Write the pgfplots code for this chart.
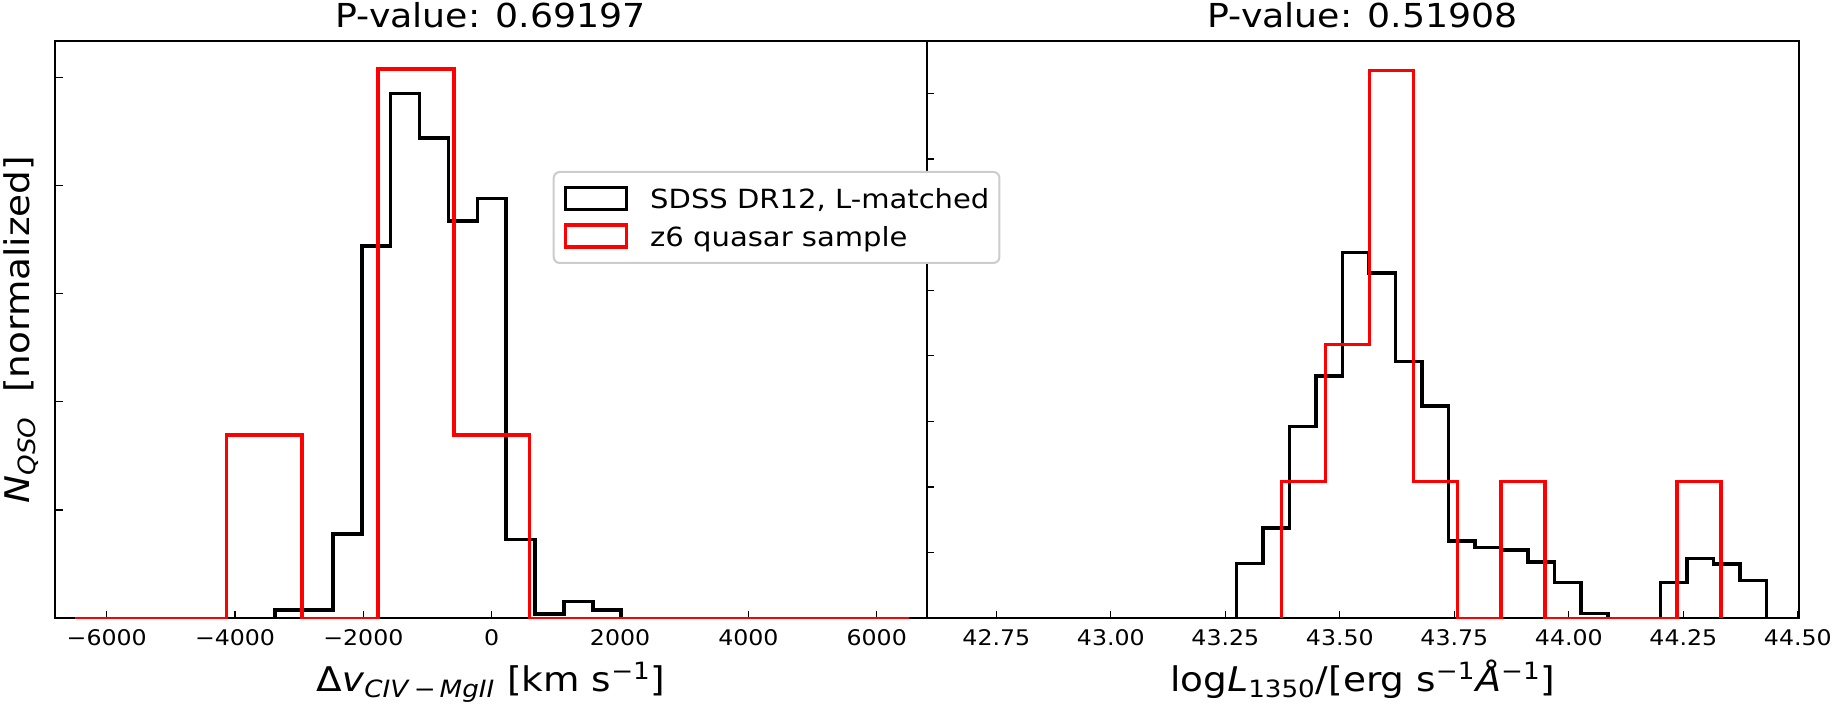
\documentclass[border=0pt]{standalone}
\usepackage{fontspec}
\setmainfont{DejaVu Sans}[FakeStretch=1.1]
\usepackage{pgfplots}
\pgfplotsset{compat=1.18}
\pgfplotsset{
  hist/.style={
    scale only axis, height=288.65pt, ymin=0,
    axis line style={line width=1pt},
    tick align=inside, xtick pos=bottom, ytick pos=left,
    major tick length=3.85pt,
    tick style={line width=0.6pt, black},
    yticklabel style={opacity=0},
    every axis title shift=0pt,
    xticklabel style={anchor=base, yshift=-13.35pt, inner sep=0pt, font=\fontsize{10.75}{12}\selectfont},
    title style={at={(axis description cs:0.5,1.02252)}, anchor=base, inner sep=0pt, font=\fontsize{16.5}{19}\selectfont},
    xlabel style={at={(axis description cs:0.5,-0.12714)}, anchor=base, inner sep=0pt, font=\fontsize{17}{20}\selectfont},
    ylabel style={at={(axis description cs:-0.02868,0.5)}, anchor=base, inner sep=0pt, font=\fontsize{17}{20}\selectfont},
  },
  step/.style={const plot mark left, line width=1.75pt, line join=miter, no marks},
  boxlegend/.style={legend image code/.code={\draw[sharp corners, line width=1.75pt,##1] (0pt,-5.5pt) rectangle (30.5pt,5.5pt);}},
}
\begin{document}
\begin{tikzpicture}
% right panel
\begin{axis}[hist, at={(435.85pt,0pt)}, anchor=south west, width=436.15pt,
  xmin=42.598, xmax=44.5026, ymax=4.40, ytick={0,0.5,...,4},
  xtick={42.75,43,43.25,43.5,43.75,44,44.25,44.5},
  xticklabels={42.75,43.00,43.25,43.50,43.75,44.00,44.25,44.50},
  title={P-value: 0.51908},
  xlabel={log\textit{L}\textsubscript{1350}/[erg s\textsuperscript{−1}\textit{Å}\textsuperscript{−1}]}]
\addplot[step, black] coordinates {(43.274,0) (43.274,0.418) (43.332,0.689) (43.390,1.461) (43.448,1.848) (43.506,2.787) (43.564,2.630) (43.621,1.957) (43.679,1.618) (43.737,0.590) (43.795,0.538) (43.853,0.522) (43.911,0.428) (43.969,0.271) (44.027,0.038) (44.085,0) (44.200,0.271) (44.258,0.455) (44.316,0.412) (44.374,0.290) (44.432,0)};
\addplot[step, red] coordinates {(43.373,0) (43.373,1.044) (43.469,2.088) (43.565,4.175) (43.661,1.044) (43.757,0) (43.852,1.044) (43.948,0) (44.236,1.044) (44.332,0)};
\end{axis}
% left panel
\begin{axis}[hist, at={(0pt,0pt)}, anchor=south west, width=435.85pt,
  xmin=-6806, xmax=6779, ymax=5.335, ytick={0,1,2,3,4,5},
  xtick={-6000,-4000,-2000,0,2000,4000,6000},
  xticklabels={−6000,−4000,−2000,0,2000,4000,6000},
  title={P-value: 0.69197},
  xlabel={Δ\textit{v}\textsubscript{\textit{CIV}\,−\,\textit{MgII}} [km s\textsuperscript{−1}]},
  ylabel={\textit{N}\textsubscript{\textit{QSO}}\ \ [normalized]},
  legend cell align=left,
  legend style={at={(axis description cs:0.571,0.7748)}, anchor=north west,
    draw=black!20, line width=1pt, rounded corners=3pt, fill=white,
    font=\fontsize{13.2}{15}\selectfont,
    inner xsep=5pt, inner ysep=7pt, row sep=6pt,
    nodes={inner sep=0pt, text depth=0pt}},
  ]
\addplot[step, black, boxlegend] coordinates {(-4275,0) (-3375,0.075) (-2475,0.78) (-2025,3.44) (-1575,4.85) (-1125,4.44) (-675,3.67) (-225,3.88) (225,0.73) (675,0.04) (1125,0.155) (1575,0.075) (2025,0)};
\addlegendentry{\hspace{11pt}SDSS DR12, L-matched}
\addplot[step, red, boxlegend] coordinates {(-6500,0) (-4136.4,1.692) (-2954.5,0) (-1772.7,5.077) (-590.9,1.692) (590.9,0) (6500,0)};
\addlegendentry{\hspace{11pt}z6 quasar sample}
\end{axis}
\pgfresetboundingbox
\useasboundingbox (-27.5pt,-44.35pt) rectangle (890pt,309.15pt);
\end{tikzpicture}
\end{document}
